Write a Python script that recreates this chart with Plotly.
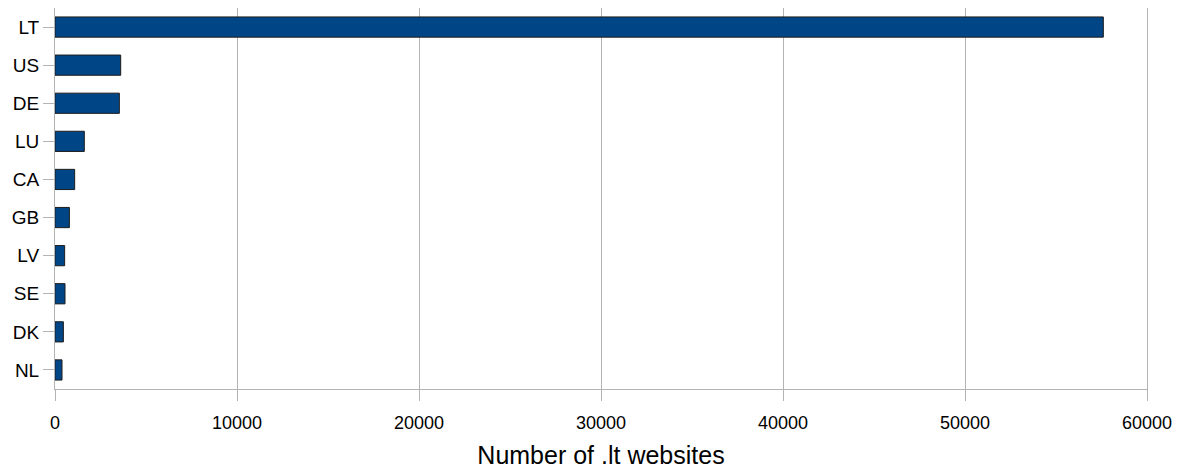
import plotly.graph_objects as go

countries = ["LT", "US", "DE", "LU", "CA", "GB", "LV", "SE", "DK", "NL"]
websites = [57600, 3610, 3535, 1610, 1080, 790, 530, 550, 460, 385]
x_ticks = [0, 10000, 20000, 30000, 40000, 50000, 60000]
x_title = "Number of .lt websites"

grid = "#b3b3b3"
font_family = "Liberation Sans, Arial, sans-serif"

# The page body has an 8px default margin, so the figure is sized/margined to
# place the plot area at the reference pixel positions.
fig = go.Figure(
    go.Bar(
        y=countries,
        x=websites,
        orientation="h",
        marker=dict(color="#004586", line=dict(color="#1c1c1c", width=1)),
        width=0.53,
    )
)

fig.update_layout(
    width=1175,
    height=463,
    margin=dict(l=47, r=36, t=0, b=82, autoexpand=False),
    paper_bgcolor="white",
    plot_bgcolor="white",
    showlegend=False,
    font=dict(family=font_family, color="#000000", size=18),
)

fig.update_xaxes(
    range=[0, 60000],
    tickvals=x_ticks,
    ticktext=[str(v) for v in x_ticks],
    showgrid=True,
    gridcolor=grid,
    gridwidth=1,
    zeroline=False,
    showline=True,
    linecolor=grid,
    linewidth=1,
    mirror=True,
    ticks="outside",
    ticklen=11,
    tickcolor=grid,
    tickfont=dict(size=18),
    ticklabelstandoff=6,
    automargin=False,
    title=dict(text=x_title, font=dict(size=25), standoff=14),
)

fig.update_yaxes(
    categoryorder="array",
    categoryarray=countries[::-1],
    showgrid=False,
    zeroline=False,
    showline=True,
    linecolor=grid,
    linewidth=1,
    mirror=True,
    ticks="outside",
    ticklen=11,
    tickcolor=grid,
    tickfont=dict(size=19),
    automargin=False,
)

fig.write_html("out.html")
